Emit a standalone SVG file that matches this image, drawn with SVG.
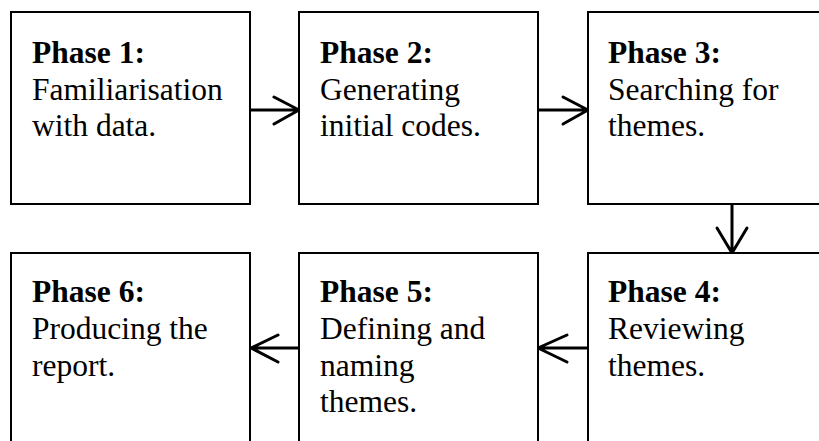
<svg xmlns="http://www.w3.org/2000/svg" width="819" height="441" viewBox="0 0 819 441">
<style>
.box{fill:#fff;stroke:#000;stroke-width:2}
.t{font-family:"Liberation Serif","Times New Roman",serif;font-size:31.5px;fill:#000}
.b{font-weight:bold}
.c{fill:none;stroke:#000;stroke-width:3;stroke-linecap:round;stroke-linejoin:round}
</style>
<rect width="819" height="441" fill="#fff"/>
<g id="connectors">
<path class="c" d="M250 110H299M274 97L299 110L274 124"/>
<path class="c" d="M538 110H588M563 97L588 110L563 124"/>
<path class="c" d="M732 204V253M717 228L732 253L747 228"/>
<path class="c" d="M588 348H538M567 335L538 348L567 362"/>
<path class="c" d="M299 348H251M278 335L251 348L278 362"/>
</g>
<g id="phase1">
<rect class="box" x="11" y="12" width="239" height="192"/>
<text class="t" x="32" y="63"><tspan class="b">Phase 1:</tspan><tspan x="32" y="99.5">Familiarisation</tspan><tspan x="32" y="136">with data.</tspan></text>
</g>
<g id="phase2">
<rect class="box" x="299" y="12" width="239" height="192"/>
<text class="t" x="320" y="63"><tspan class="b">Phase 2:</tspan><tspan x="320" y="99.5">Generating</tspan><tspan x="320" y="136">initial codes.</tspan></text>
</g>
<g id="phase3">
<rect class="box" x="588" y="12" width="239" height="192"/>
<text class="t" x="608" y="63"><tspan class="b">Phase 3:</tspan><tspan x="608" y="99.5">Searching for</tspan><tspan x="608" y="136">themes.</tspan></text>
</g>
<g id="phase4">
<rect class="box" x="588" y="253" width="239" height="192"/>
<text class="t" x="608" y="302"><tspan class="b">Phase 4:</tspan><tspan x="608" y="339">Reviewing</tspan><tspan x="608" y="375.5">themes.</tspan></text>
</g>
<g id="phase5">
<rect class="box" x="299" y="253" width="239" height="192"/>
<text class="t" x="320" y="302"><tspan class="b">Phase 5:</tspan><tspan x="320" y="339">Defining and</tspan><tspan x="320" y="375.5">naming</tspan><tspan x="320" y="412">themes.</tspan></text>
</g>
<g id="phase6">
<rect class="box" x="11" y="253" width="239" height="192"/>
<text class="t" x="32" y="302"><tspan class="b">Phase 6:</tspan><tspan x="32" y="339">Producing the</tspan><tspan x="32" y="375.5">report.</tspan></text>
</g>
</svg>
